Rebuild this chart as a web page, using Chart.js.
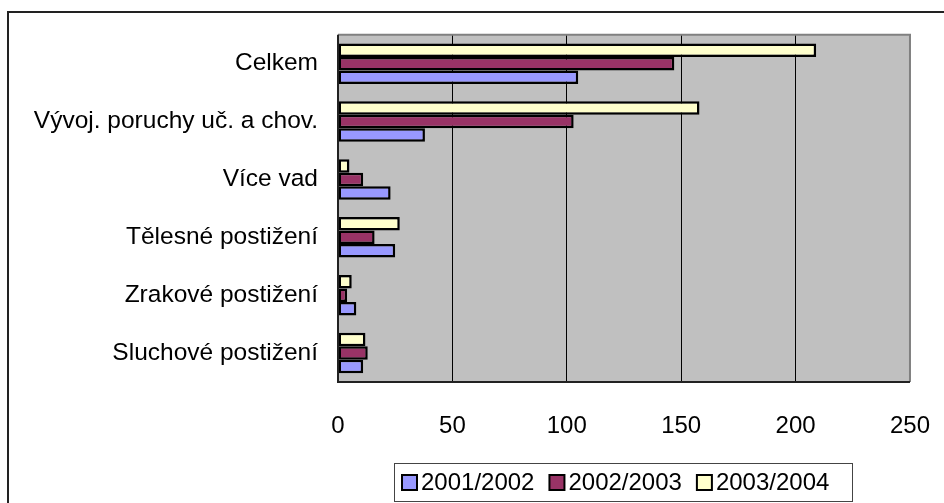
<!DOCTYPE html>
<html>
<head>
<meta charset="utf-8">
<script src="https://cdn.jsdelivr.net/npm/chart.js@4/dist/chart.umd.min.js"></script>
<style>
html,body{margin:0;padding:0;background:#fff;}
#wrap{width:944px;height:503px;}
</style>
</head>
<body>
<div id="wrap"><canvas id="c" width="944" height="503"></canvas></div>
<script>
const categories = ['Celkem', 'Vývoj. poruchy uč. a chov.', 'Více vad', 'Tělesné postižení', 'Zrakové postižení', 'Sluchové postižení'];
const seriesNames = ['2001/2002', '2002/2003', '2003/2004'];
const s2001 = [105, 38, 23, 25, 8, 11];
const s2002 = [147, 103, 11, 16, 4, 13];
const s2003 = [209, 158, 5, 27, 6, 12];
const xTicks = [0, 50, 100, 150, 200, 250];

const FONT = 'Liberation Sans, Arial, sans-serif';
const colors = ['#9999FF', '#993366', '#FFFFCC'];

const deco = {
  id: 'deco',
  beforeDraw(chart) {
    const ctx = chart.ctx, a = chart.chartArea;
    ctx.save();
    ctx.fillStyle = '#fff';
    ctx.fillRect(0, 0, chart.width, chart.height);
    ctx.fillStyle = '#C0C0C0';
    ctx.fillRect(a.left, a.top, a.right - a.left, a.bottom - a.top);
    ctx.restore();
  },
  afterDraw(chart) {
    const ctx = chart.ctx, a = chart.chartArea;
    ctx.save();
    ctx.strokeStyle = '#808080';
    ctx.lineWidth = 2;
    ctx.beginPath();
    ctx.moveTo(a.left, a.top);
    ctx.lineTo(a.right, a.top);
    ctx.lineTo(a.right, a.bottom);
    ctx.stroke();
    ctx.strokeStyle = '#222';
    ctx.lineWidth = 2;
    ctx.beginPath();
    ctx.moveTo(a.left, a.top);
    ctx.lineTo(a.left, a.bottom);
    ctx.lineTo(a.right, a.bottom);
    ctx.stroke();
    ctx.strokeStyle = '#222';
    ctx.lineWidth = 2;
    ctx.beginPath();
    ctx.moveTo(8, chart.height);
    ctx.lineTo(8, 12);
    ctx.lineTo(chart.width, 12);
    ctx.stroke();
    const bx = 394, by = 463, bw = 458, bh = 38;
    ctx.strokeStyle = '#444';
    ctx.lineWidth = 1;
    ctx.strokeRect(bx + 0.5, by + 0.5, bw, bh);
    ctx.font = '24px ' + FONT;
    ctx.textBaseline = 'middle';
    ctx.textAlign = 'left';
    let x = 402;
    const cy = 482;
    const ds = chart.data.datasets.slice().reverse();
    ds.forEach(d => {
      ctx.fillStyle = d.backgroundColor;
      ctx.fillRect(x, cy - 7, 15, 15);
      ctx.strokeStyle = '#000';
      ctx.lineWidth = 2;
      ctx.strokeRect(x, cy - 7, 15, 15);
      x += 19;
      ctx.fillStyle = '#000';
      ctx.fillText(d.label, x, cy + 1);
      x += ctx.measureText(d.label).width + 15;
    });
    ctx.restore();
  }
};

new Chart(document.getElementById('c'), {
  type: 'bar',
  data: {
    labels: categories,
    datasets: [
      { label: seriesNames[2], data: s2003, backgroundColor: colors[2] },
      { label: seriesNames[1], data: s2002, backgroundColor: colors[1] },
      { label: seriesNames[0], data: s2001, backgroundColor: colors[0] }
    ].map(d => Object.assign(d, { borderColor: '#000', borderWidth: 2.5, borderSkipped: false, categoryPercentage: 0.7, barPercentage: 1.0 }))
  },
  options: {
    indexAxis: 'y',
    responsive: false,
    animation: false,
    layout: { padding: { top: 33, right: 0, left: 0, bottom: 0 } },
    plugins: { legend: { display: false }, tooltip: { enabled: false } },
    scales: {
      x: {
        min: 0, max: 250,
        afterBuildTicks(scale) { scale.ticks = xTicks.map(v => ({ value: v })); },
        afterFit(scale) { scale.height = 121; },
        grid: {
          color: ctx => (ctx.tick && ctx.tick.value === 250) ? 'rgba(0,0,0,0)' : '#000',
          lineWidth: 1,
          drawTicks: false
        },
        border: { display: false },
        ticks: { color: '#000', font: { family: FONT, size: 24, lineHeight: 2.53 }, padding: 14, maxRotation: 0 }
      },
      y: {
        afterFit(scale) { scale.width = 338; },
        grid: { display: false, drawTicks: false },
        border: { display: false },
        ticks: { color: '#000', font: { family: FONT, size: 24.5 }, padding: 20 }
      }
    }
  },
  plugins: [deco]
});
</script>
</body>
</html>
